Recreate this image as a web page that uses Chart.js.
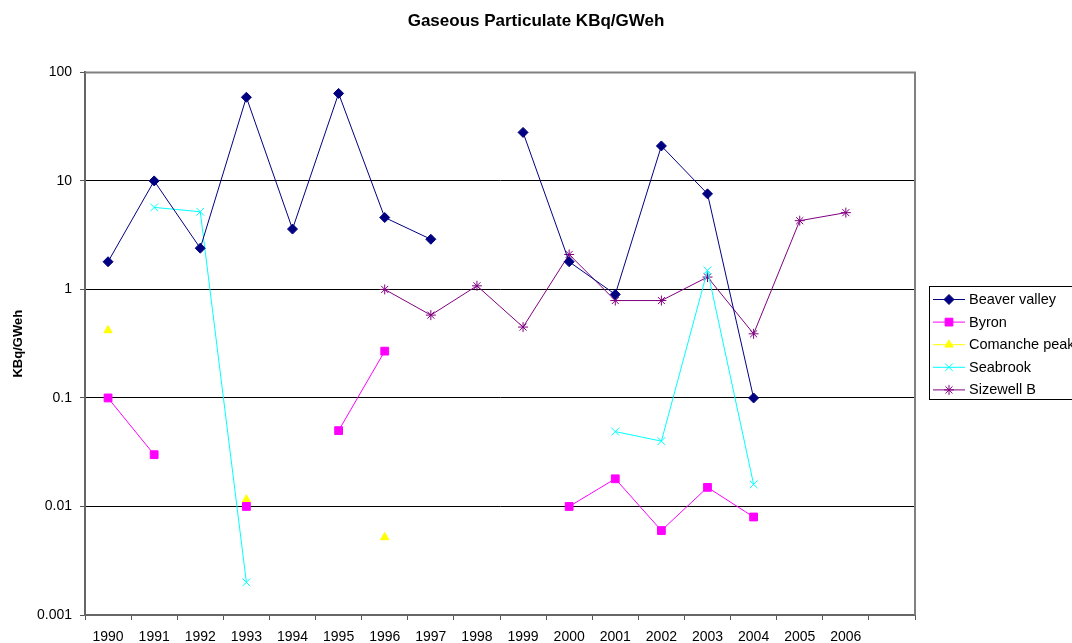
<!DOCTYPE html>
<html>
<head>
<meta charset="utf-8">
<script src="https://cdn.jsdelivr.net/npm/chart.js@4/dist/chart.umd.min.js"></script>
<style>
    html, body { margin: 0; padding: 0; background: #fff; }
    canvas { display: block; }
</style>
</head>
<body>
<canvas id="c_particulate" width="1072" height="643"></canvas>
<script>
// Data
const years = ['1990', '1991', '1992', '1993', '1994', '1995', '1996', '1997', '1998',
    '1999', '2000', '2001', '2002', '2003', '2004', '2005', '2006', '']
const beaverValley = [1.8, 10, 2.4, 59, 3.6, 64, 4.6, 2.9, null, 28, 1.8, 0.9, 21, 7.6, 0.1, null, null, null]
const byron = [0.1, 0.03, null, 0.01, null, 0.05, 0.27, null, null, null, 0.01, 0.018, 0.006, 0.015, 0.008, null, null, null]
const comanchePeak = [0.42, null, null, 0.0116, null, null, 0.0052, null, null, null, null, null, null, null, null, null, null, null]
const seabrook = [null, 5.7, 5.2, 0.002, null, null, null, null, null, null, null, 0.049, 0.04, 1.5, 0.016, null, null, null]
const sizewellB = [null, null, null, null, null, null, 1.0, 0.58, 1.08, 0.45, 2.1, 0.79, 0.79, 1.3, 0.39, 4.3, 5.1, null]
const yTicks = [0.001, 0.01, 0.1, 1, 10, 100]
const yTickLabels = ['0.001', '0.01', '0.1', '1', '10', '100']
// Data EOF

const FONT = '"Liberation Sans", Arial, sans-serif'

function series(label, data, color, style, radius) {
    return {
        label: label,
        data: data,
        borderColor: color,
        backgroundColor: color,
        borderWidth: 1,
        pointStyle: style,
        pointRadius: radius,
        pointBackgroundColor: color,
        pointBorderColor: color,
        pointBorderWidth: 1,
        spanGaps: false,
        tension: 0
    }
}

// plot border + legend box
const frameLegend = {
    id: 'frameLegend',
    afterDraw(chart) {
        const ctx = chart.ctx
        const a = chart.chartArea
        ctx.save()
        ctx.strokeStyle = '#808080'
        ctx.lineWidth = 2
        ctx.beginPath()
        ctx.moveTo(a.left, a.top)
        ctx.lineTo(a.right, a.top)
        ctx.lineTo(a.right, a.bottom)
        ctx.stroke()

        // legend
        ctx.strokeStyle = '#000'
        ctx.lineWidth = 1
        ctx.strokeRect(929.5, 286.5, 200, 113)
        ctx.font = '14.5px ' + FONT
        ctx.textBaseline = 'middle'
        ctx.textAlign = 'left'
        chart.data.datasets.forEach(function (ds, i) {
            const y = 299 + i * 22.6
            ctx.strokeStyle = ds.borderColor
            ctx.lineWidth = 1
            ctx.beginPath()
            ctx.moveTo(933, y + 0.5)
            ctx.lineTo(965, y + 0.5)
            ctx.stroke()
            ctx.fillStyle = ds.borderColor
            Chart.helpers.drawPoint(ctx, {
                pointStyle: ds.pointStyle,
                radius: ds.pointRadius,
                borderWidth: 1,
                rotation: 0
            }, 949, y + 0.5)
            ctx.fillStyle = '#000'
            ctx.fillText(ds.label, 969, y + 1)
        })
        ctx.restore()
    }
}

var ctx = document.getElementById('c_particulate').getContext('2d')
new Chart(ctx, {
    type: 'line',
    data: {
        labels: years,
        datasets: [
            series('Beaver valley', beaverValley, '#000080', 'rectRot', 5),
            series('Byron', byron, '#FF00FF', 'rect', 5.5),
            series('Comanche peak', comanchePeak, '#FFFF00', 'triangle', 4.8),
            series('Seabrook', seabrook, '#00FFFF', 'crossRot', 5.5),
            series('Sizewell B', sizewellB, '#800080', 'star', 5)
        ]
    },
    options: {
        responsive: false,
        animation: false,
        layout: { padding: 0 },
        plugins: {
            legend: { display: false },
            tooltip: { enabled: false },
            title: {
                display: true,
                text: 'Gaseous Particulate KBq/GWeh',
                color: '#000',
                font: { family: FONT, size: 17, weight: 'bold' },
                padding: { top: 11, bottom: 41 }
            }
        },
        scales: {
            x: {
                type: 'category',
                offset: true,
                grid: {
                    display: true,
                    offset: true,
                    drawOnChartArea: false,
                    drawTicks: true,
                    tickLength: 5,
                    tickColor: '#555',
                    tickWidth: 1
                },
                border: { display: true, color: '#666', width: 2 },
                ticks: {
                    color: '#000',
                    font: { family: FONT, size: 14 },
                    padding: 9,
                    maxRotation: 0,
                    autoSkip: false
                },
                afterFit(scale) { scale.height = 28 }
            },
            y: {
                type: 'logarithmic',
                min: 0.001,
                max: 100,
                afterBuildTicks(scale) {
                    scale.ticks = yTicks.map(v => ({ value: v }))
                },
                grid: {
                    color: '#000',
                    lineWidth: 1,
                    drawTicks: true,
                    tickLength: 5,
                    tickColor: '#555'
                },
                border: { display: true, color: '#666', width: 2 },
                ticks: {
                    color: '#000',
                    font: { family: FONT, size: 14 },
                    padding: 8,
                    callback: function (value) {
                        const i = yTicks.indexOf(value)
                        return i >= 0 ? yTickLabels[i] : ''
                    }
                },
                title: {
                    display: true,
                    text: 'KBq/GWeh',
                    color: '#000',
                    font: { family: FONT, size: 13, weight: 'bold' },
                    padding: { top: 11, bottom: 0 }
                },
                afterFit(scale) { scale.width = 85 }
            },
            // empty right axis: keeps room for the legend so the title stays centred on the page
            yRight: {
                type: 'linear',
                position: 'right',
                display: true,
                grid: { display: false, drawOnChartArea: false },
                border: { display: false },
                ticks: { display: false },
                afterFit(scale) { scale.width = 157 }
            }
        }
    },
    plugins: [frameLegend]
})
</script>
</body>
</html>
